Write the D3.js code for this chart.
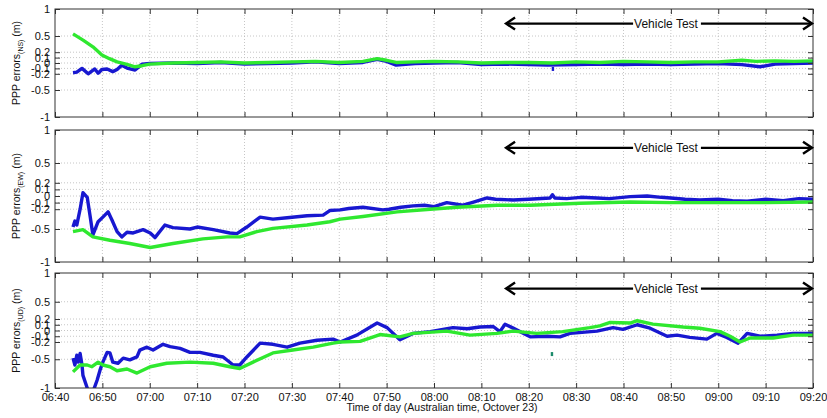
<!DOCTYPE html>
<html><head><meta charset="utf-8">
<script src="https://cdn.jsdelivr.net/npm/d3@7"></script>
<style>
body{margin:0;background:#fff;}
text{font-family:"Liberation Sans",Arial,sans-serif;}
</style></head>
<body><svg id="c" width="827" height="418"></svg>
<script>
// ---- data (minutes after 06:40, error in metres) ----
const timeTickLabels = ["06:40","06:50","07:00","07:10","07:20","07:30","07:40","07:50","08:00","08:10","08:20","08:30","08:40","08:50","09:00","09:10","09:20"];
const yTickValues = [-1,-0.5,-0.2,-0.1,0,0.1,0.2,0.5,1];
const panelNames = ["NS","EW","UD"];
const vehicleTestStart = 95, vehicleTestEnd = 160, vehicleTestLevel = 0.73;

const nsBlue = [[3.8,-0.18],[4.6,-0.17],[5.7,-0.1],[7.0,-0.2],[8.4,-0.11],[9.1,-0.19],[9.9,-0.12],[11.0,-0.11],[12.2,-0.16],[13.1,-0.12],[14.1,-0.04],[15.4,-0.1],[16.9,-0.13],[18.4,-0.02],[20,-0.01],[25,0.0],[30,-0.01],[35,0.01],[40,-0.02],[45,-0.01],[50,0.0],[55,0.02],[60,-0.01],[65,0.01],[68,0.07],[70,0.03],[72,-0.04],[76,-0.01],[80,0.0],[85,0.01],[90,-0.03],[95,-0.02],[100,-0.03],[104,-0.04],[110,-0.03],[115,-0.02],[120,-0.03],[125,-0.02],[130,-0.03],[135,-0.02],[140,-0.01],[145,-0.03],[148.8,-0.07],[152,-0.02],[156,-0.01],[160,0.0]];
const nsGreen = [[3.8,0.54],[6,0.42],[8,0.3],[9.9,0.15],[11.5,0.08],[13.1,0.02],[15,-0.02],[16.9,-0.07],[18.4,-0.05],[20,-0.02],[25,0.0],[30,0.01],[35,0.02],[40,0.0],[45,0.01],[50,0.02],[55,0.03],[60,0.01],[65,0.03],[68,0.08],[70,0.05],[72,0.01],[76,0.02],[80,0.03],[85,0.02],[90,0.0],[95,0.01],[100,0.01],[105,0.0],[110,0.02],[115,0.01],[120,0.03],[125,0.02],[130,0.01],[135,0.02],[140,0.02],[145,0.05],[148,0.03],[152,0.04],[156,0.03],[160,0.04]];
const nsOutliers = [[105.1,-0.11]];

const ewBlue = [[3.8,-0.47],[4.2,-0.38],[4.6,-0.44],[5.3,-0.2],[5.9,0.05],[6.8,-0.02],[7.4,-0.3],[8.0,-0.59],[9.1,-0.39],[10.1,-0.32],[11.2,-0.24],[12.0,-0.36],[13.1,-0.54],[14.1,-0.62],[15.2,-0.55],[16.5,-0.56],[18.6,-0.51],[20.1,-0.56],[21.1,-0.63],[23.2,-0.44],[24.9,-0.48],[28.5,-0.5],[30.0,-0.47],[33.4,-0.51],[36.9,-0.56],[38.4,-0.57],[40.5,-0.47],[43.3,-0.32],[46.0,-0.35],[49.0,-0.33],[53.2,-0.3],[56.6,-0.29],[58.0,-0.22],[60.2,-0.21],[62,-0.19],[65.0,-0.17],[69.2,-0.21],[70.5,-0.2],[73,-0.17],[75.6,-0.15],[78,-0.14],[80,-0.16],[82.7,-0.1],[86.1,-0.14],[88,-0.1],[91.2,-0.03],[93,-0.05],[96.7,-0.06],[100,-0.05],[104.5,-0.03],[105,0.02],[105.5,-0.03],[108,-0.04],[111,-0.02],[114.4,-0.03],[117,-0.04],[121.4,-0.01],[125,0.0],[128,-0.02],[130,-0.03],[133,-0.05],[136.1,-0.06],[140,-0.05],[143,-0.07],[146.1,-0.08],[150,-0.05],[153.7,-0.07],[157,-0.04],[160,-0.05]];
const ewGreen = [[3.8,-0.54],[5.9,-0.51],[8.0,-0.62],[11.6,-0.67],[15.8,-0.72],[20.1,-0.78],[24.9,-0.72],[31.2,-0.65],[36.3,-0.62],[39.0,-0.62],[42.6,-0.54],[46.0,-0.49],[53.2,-0.44],[58.0,-0.39],[60.2,-0.35],[65.0,-0.31],[72.2,-0.24],[79.2,-0.2],[84.9,-0.17],[93.3,-0.14],[100.3,-0.14],[110.8,-0.11],[121.4,-0.09],[130,-0.1],[140,-0.1],[150,-0.1],[160,-0.09]];
const ewOutliers = [];

const udBlue = [[3.8,-0.48],[4.2,-0.6],[4.6,-0.43],[4.9,-0.55],[5.3,-0.4],[5.7,-0.6],[5.9,-0.78],[6.8,-1.0],[7.4,-1.15],[8.0,-1.07],[8.9,-0.86],[9.5,-0.69],[10.1,-0.55],[11.0,-0.38],[11.6,-0.39],[12.2,-0.55],[13.3,-0.57],[14.4,-0.48],[15.8,-0.51],[17.3,-0.46],[17.9,-0.34],[19.4,-0.29],[20.7,-0.34],[22.8,-0.24],[24.3,-0.28],[26.4,-0.31],[28.5,-0.38],[30.6,-0.38],[33.4,-0.43],[35.5,-0.46],[37.6,-0.6],[39.0,-0.6],[40.5,-0.46],[43.3,-0.22],[46.0,-0.24],[49.0,-0.29],[51.7,-0.22],[55.3,-0.17],[58.7,-0.15],[60.2,-0.2],[63.7,-0.08],[68.0,0.13],[70.1,0.05],[72.8,-0.16],[75.6,-0.05],[79.2,-0.02],[84.0,0.05],[87.0,0.03],[89.7,0.06],[92.5,0.07],[93.9,-0.02],[95.0,0.11],[96.5,0.05],[100.3,-0.11],[103.9,-0.1],[106.6,-0.11],[108.7,-0.05],[114.4,-0.01],[117.8,0.05],[119.9,0.02],[122.9,0.1],[125.6,0.04],[129.2,-0.1],[131.3,-0.08],[134.0,-0.12],[137.6,-0.15],[139.7,-0.05],[141.8,-0.12],[144.2,-0.22],[146.1,-0.05],[148.8,-0.1],[152.4,-0.08],[155.8,-0.05],[160,-0.05]];
const udGreen = [[3.8,-0.72],[5.3,-0.6],[6.8,-0.6],[7.8,-0.63],[9.1,-0.55],[10.1,-0.6],[11.6,-0.63],[13.1,-0.7],[15.2,-0.67],[17.3,-0.74],[20.1,-0.63],[23.6,-0.57],[28.5,-0.55],[33.4,-0.57],[36.9,-0.63],[39.0,-0.66],[41.8,-0.55],[46.0,-0.39],[50.2,-0.34],[54.5,-0.29],[58.7,-0.22],[60.2,-0.2],[64.4,-0.19],[68.6,-0.07],[72.8,-0.11],[75.6,-0.05],[82.7,-0.01],[87.6,-0.08],[93.3,-0.05],[96.7,-0.01],[101.7,-0.05],[107.2,-0.02],[112.9,0.05],[115.0,0.08],[117.2,0.14],[121.4,0.13],[122.9,0.17],[126.2,0.11],[132.6,0.06],[136.1,0.04],[140.4,-0.02],[142.5,-0.1],[144.6,-0.2],[146.7,-0.13],[151.6,-0.13],[155.8,-0.08],[160,-0.08]];
const udOutliers = [[104.9,-0.41]];

// ---- layout ----
const svg = d3.select("#c");
const X0 = 55, X1 = 813;
const x = d3.scaleLinear().domain([0,160]).range([X0,X1]);
const xTickValues = timeTickLabels.map((d,i)=>i*10);
const panels = [
  {name:panelNames[0], top:9, bottom:117, blue:nsBlue, green:nsGreen, out:nsOutliers, outColor:"#1a1acf"},
  {name:panelNames[1], top:130, bottom:262, blue:ewBlue, green:ewGreen, out:ewOutliers, outColor:"#1a1acf"},
  {name:panelNames[2], top:273, bottom:388, blue:udBlue, green:udGreen, out:udOutliers, outColor:"#1b8a6a"}
];
const BLUE="#1818d0", GREEN="#2fe82f";

panels.forEach((p,pi)=>{
  const y = d3.scaleLinear().domain([-1,1]).range([p.bottom,p.top]);
  const g = svg.append("g");
  // grid
  g.selectAll(".vg").data(xTickValues.slice(1,-1)).join("line")
    .attr("x1",d=>x(d)).attr("x2",d=>x(d)).attr("y1",p.top).attr("y2",p.bottom)
    .attr("stroke","#b8b8b8").attr("stroke-width",0.8).attr("stroke-dasharray","1,2");
  g.selectAll(".hg").data(yTickValues.slice(1,-1)).join("line")
    .attr("x1",X0).attr("x2",X1).attr("y1",d=>y(d)).attr("y2",d=>y(d))
    .attr("stroke","#b8b8b8").attr("stroke-width",0.8).attr("stroke-dasharray","1,2");

  const clipId = "clip"+pi;
  svg.append("clipPath").attr("id",clipId).append("rect")
    .attr("x",X0).attr("y",p.top).attr("width",X1-X0).attr("height",p.bottom-p.top);
  const line = d3.line().x(d=>x(d[0])).y(d=>y(d[1]));
  const lg = g.append("g").attr("clip-path",`url(#${clipId})`);
  lg.append("path").datum(p.blue).attr("d",line).attr("fill","none")
    .attr("stroke",BLUE).attr("stroke-width",3.4).attr("stroke-linejoin","round");
  lg.append("path").datum(p.green).attr("d",line).attr("fill","none")
    .attr("stroke",GREEN).attr("stroke-width",3.4).attr("stroke-linejoin","round");
  lg.selectAll(".o").data(p.out).join("rect")
    .attr("x",d=>x(d[0])-1.2).attr("y",d=>y(d[1])-2).attr("width",2.4).attr("height",4)
    .attr("fill",p.outColor);

  // axes (inward ticks, mirrored)
  const ax = (sel)=>sel.call(s=>{s.select(".domain").remove(); s.selectAll("line").attr("stroke","#333");
      s.selectAll("text").attr("fill","#111").style("font-size","11px");});
  g.append("g").attr("transform",`translate(${X0},0)`)
    .call(d3.axisLeft(y).tickValues(yTickValues).tickFormat(d=>String(d)).tickSizeInner(-5).tickSizeOuter(0).tickPadding(5))
    .call(ax);
  g.append("g").attr("transform",`translate(${X1},0)`)
    .call(d3.axisRight(y).tickValues(yTickValues).tickFormat("").tickSizeInner(-5).tickSizeOuter(0))
    .call(ax);
  g.append("g").attr("transform",`translate(0,${p.bottom})`)
    .call(d3.axisBottom(x).tickValues(xTickValues).tickFormat(pi===2?((d,i)=>timeTickLabels[i]):"").tickSizeInner(-5).tickSizeOuter(0).tickPadding(5))
    .call(ax);
  g.append("g").attr("transform",`translate(0,${p.top})`)
    .call(d3.axisTop(x).tickValues(xTickValues).tickFormat("").tickSizeInner(-5).tickSizeOuter(0))
    .call(ax);
  g.append("rect").attr("x",X0).attr("y",p.top).attr("width",X1-X0).attr("height",p.bottom-p.top)
    .attr("fill","none").attr("stroke","#333").attr("stroke-width",1);

  // y label
  const yl = g.append("text").attr("transform",`translate(20,${(p.top+p.bottom)/2}) rotate(-90)`)
    .attr("text-anchor","middle").attr("fill","#111").style("font-size","10.5px");
  yl.append("tspan").text("PPP errors");
  yl.append("tspan").attr("dy",3).style("font-size","7px").text(`(${p.name})`);
  yl.append("tspan").attr("dy",-3).text(" (m)");

  // vehicle test arrow
  const ay = y(vehicleTestLevel), xa = x(vehicleTestStart), xb = x(vehicleTestEnd);
  const tx = 666;
  const t = g.append("text").attr("x",tx).attr("y",ay+4).attr("text-anchor","middle")
    .style("font-size","12px").attr("fill","#111").text("Vehicle Test");
  const tw = t.node().getComputedTextLength();
  g.append("line").attr("x1",xa+1).attr("x2",tx-tw/2-1).attr("y1",ay).attr("y2",ay).attr("stroke","#000").attr("stroke-width",2.2);
  g.append("line").attr("x1",tx+tw/2+3).attr("x2",xb-1).attr("y1",ay).attr("y2",ay).attr("stroke","#000").attr("stroke-width",2.2);
  g.append("path").attr("d",`M${xa+10},${ay-6} L${xa+1},${ay} L${xa+10},${ay+6}`).attr("fill","none").attr("stroke","#000").attr("stroke-width",2.4);
  g.append("path").attr("d",`M${xb-10},${ay-6} L${xb-1},${ay} L${xb-10},${ay+6}`).attr("fill","none").attr("stroke","#000").attr("stroke-width",2.4);
});

svg.append("text").attr("x",442).attr("y",411).attr("text-anchor","middle")
  .style("font-size","10.5px").attr("fill","#111").text("Time of day (Australian time, Octover 23)");
</script></body></html>
